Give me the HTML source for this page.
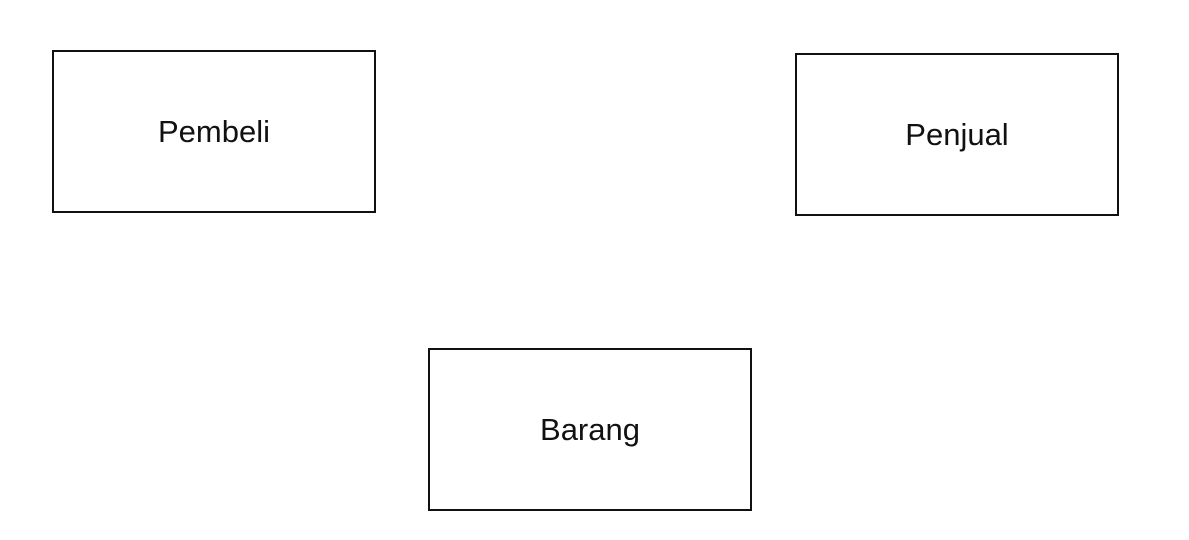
<!DOCTYPE html>
<html><head><meta charset="utf-8"><style>
html,body{margin:0;padding:0;background:#fff;width:1189px;height:540px;overflow:hidden}
.box{position:absolute;box-sizing:border-box;width:324px;height:163px;border:2px solid #111;display:flex;align-items:center;justify-content:center;font-family:"Liberation Sans",Arial,sans-serif;font-size:31px;color:#111}
</style></head><body>
<div class="box" style="left:52px;top:50px">Pembeli</div>
<div class="box" style="left:795px;top:53px">Penjual</div>
<div class="box" style="left:428px;top:348px">Barang</div>
</body></html>
